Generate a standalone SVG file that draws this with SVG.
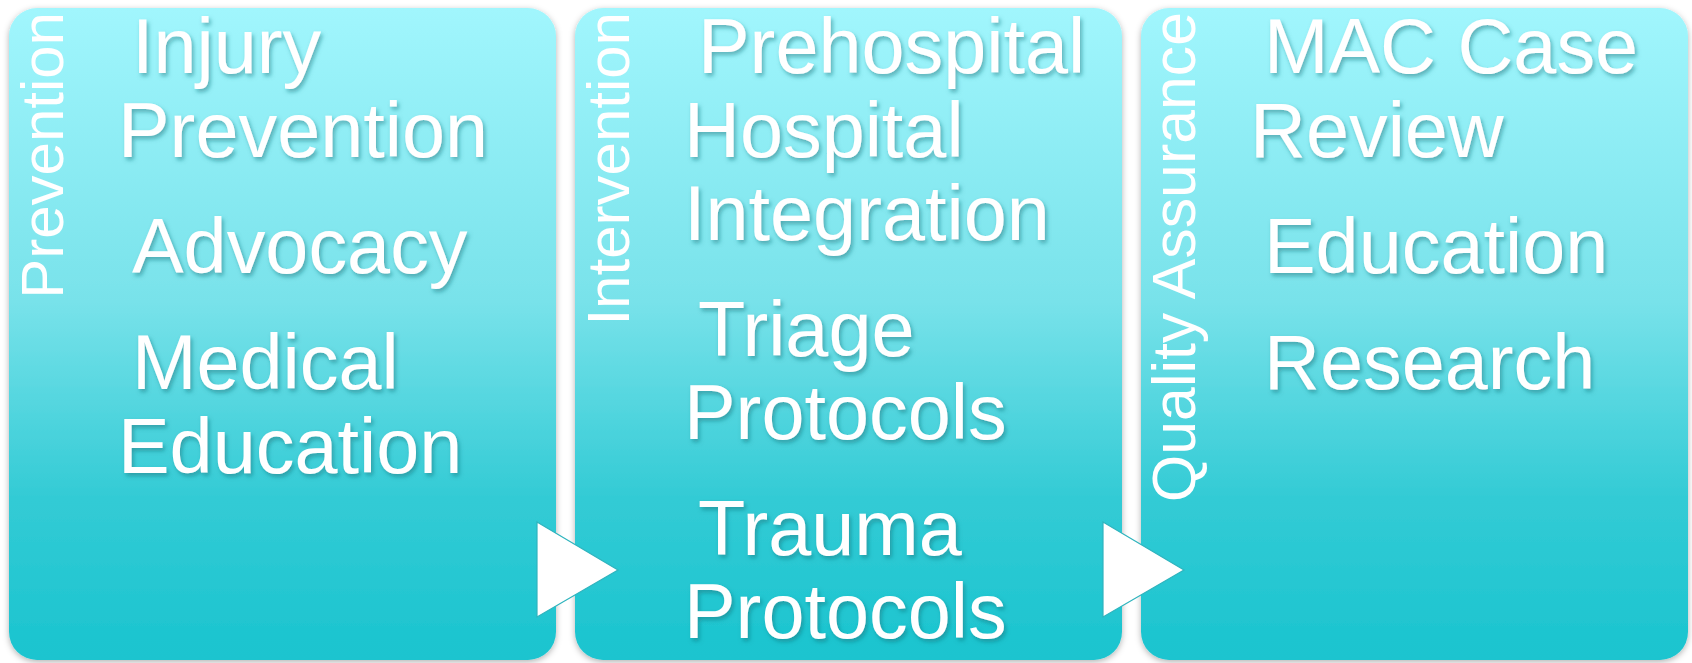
<svg xmlns="http://www.w3.org/2000/svg" width="1692" height="663" viewBox="0 0 1692 663">
  <defs>
    <linearGradient id="boxGrad" x1="0" y1="0" x2="0" y2="1">
      <stop offset="0" stop-color="#a1f6fd"/>
      <stop offset="0.45" stop-color="#78e2ea"/>
      <stop offset="0.75" stop-color="#33cbd5"/>
      <stop offset="1" stop-color="#1ac4cf"/>
    </linearGradient>
    <filter id="boxShadow" x="-5%" y="-5%" width="110%" height="110%">
      <feDropShadow dx="0" dy="2" stdDeviation="3" flood-color="#000000" flood-opacity="0.3"/>
    </filter>
    <filter id="textShadow" x="-10%" y="-20%" width="120%" height="140%">
      <feDropShadow dx="2" dy="3" stdDeviation="2" flood-color="#0b6d76" flood-opacity="0.5"/>
    </filter>
  </defs>
  <style>
    .box { fill: url(#boxGrad); filter: url(#boxShadow); }
    .item { font-family: "Liberation Sans", Arial, sans-serif; font-size: 77.4px; fill: #ffffff; filter: url(#textShadow); }
    .side { font-family: "Liberation Sans", Arial, sans-serif; font-size: 60px; fill: #ffffff; text-anchor: end; }
    .side-long { font-size: 60.8px; }
    .arrow { fill: #ffffff; stroke: #2fb4be; stroke-width: 1.2; }
  </style>
  <rect width="1692" height="663" fill="#ffffff"/>

  <g id="node-prevention">
    <rect class="box" x="9" y="8" width="547" height="652" rx="28"/>
    <text class="side" transform="translate(63,12) rotate(-90)">Prevention</text>
    <text class="item" x="132" y="73">Injury</text>
    <text class="item" x="118" y="157">Prevention</text>
    <text class="item" x="132" y="273">Advocacy</text>
    <text class="item" x="132" y="389">Medical</text>
    <text class="item" x="118" y="473">Education</text>
  </g>

  <g id="node-intervention">
    <rect class="box" x="575" y="8" width="547" height="652" rx="28"/>
    <text class="side" transform="translate(629,12) rotate(-90)">Intervention</text>
    <text class="item" x="698" y="73">Prehospital</text>
    <text class="item" x="684" y="157">Hospital</text>
    <text class="item" x="684" y="240">Integration</text>
    <text class="item" x="698" y="356">Triage</text>
    <text class="item" x="684" y="439">Protocols</text>
    <text class="item" x="698" y="555">Trauma</text>
    <text class="item" x="684" y="638">Protocols</text>
  </g>

  <g id="node-quality-assurance">
    <rect class="box" x="1141" y="8" width="547" height="652" rx="28"/>
    <text class="side side-long" transform="translate(1195,12) rotate(-90)">Quality Assurance</text>
    <text class="item" x="1264" y="73">MAC Case</text>
    <text class="item" x="1250" y="157">Review</text>
    <text class="item" x="1264" y="273">Education</text>
    <text class="item" x="1264" y="389">Research</text>
  </g>

  <g id="connectors">
    <polygon class="arrow" points="537,522 618,570 537,617"/>
    <polygon class="arrow" points="1103,522 1184,570 1103,617"/>
  </g>
</svg>
